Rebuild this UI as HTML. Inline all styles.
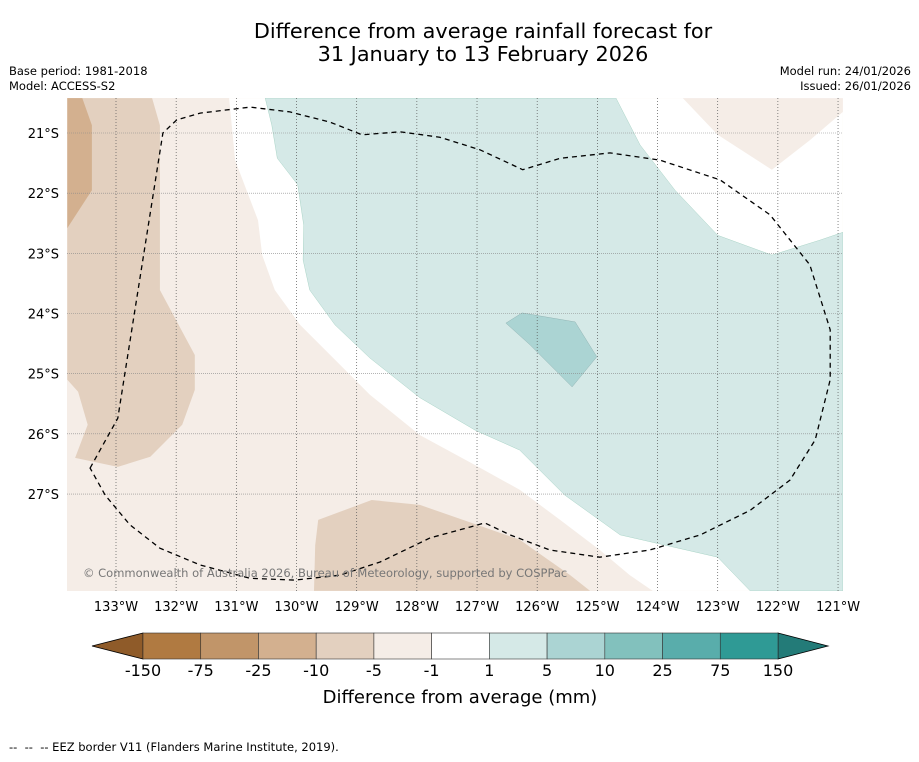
<!DOCTYPE html>
<html><head><meta charset="utf-8"><style>
body{margin:0;background:#fff;font-family:"DejaVu Sans","Liberation Sans",sans-serif;}
</style></head><body>
<svg width="919" height="758" xmlns="http://www.w3.org/2000/svg" font-family="DejaVu Sans, Liberation Sans, sans-serif">
<text x="483" y="38" font-size="20.8" text-anchor="middle">Difference from average rainfall forecast for</text>
<text x="483" y="61" font-size="20.8" text-anchor="middle">31 January to 13 February 2026</text>
<text x="9" y="75" font-size="11.5">Base period: 1981-2018</text>
<text x="9" y="90" font-size="11.5">Model: ACCESS-S2</text>
<text x="911" y="75" font-size="11.5" text-anchor="end">Model run: 24/01/2026</text>
<text x="911" y="90" font-size="11.5" text-anchor="end">Issued: 26/01/2026</text>
<defs><clipPath id="mc"><rect x="67" y="98" width="776" height="493"/></clipPath></defs>
<g id="map" clip-path="url(#mc)"></g>
<g id="axes"></g>
<text x="83" y="577" font-size="11.5" fill="#777">© Commonwealth of Australia 2026, Bureau of Meteorology, supported by COSPPac</text>
<g id="cbar"></g>
<text x="460" y="703" font-size="18" text-anchor="middle">Difference from average (mm)</text>
<text x="9" y="751" font-size="11.5" style="white-space:pre">--  --  -- EEZ border V11 (Flanders Marine Institute, 2019).</text>
</svg>
<script>
const lonTicks=[133,132,131,130,129,128,127,126,125,124,123,122,121];
const latTicks=[21,22,23,24,25,26,27];
const cbLabels=["-150","-75","-25","-10","-5","-1","1","5","10","25","75","150"];
const cbColors=["#b07a41","#c19569","#d3b08f","#e3d0bf","#f5ede7","#ffffff","#d5e9e7","#abd4d3","#82c1bd","#59adab","#2f9a95"];
const whiteRegion=[[131.12,20.42],[131.02,21.45],[130.64,22.45],[130.57,23.03],[130.36,23.61],[129.94,24.19],[129.36,24.77],[128.78,25.35],[127.95,26.02],[127.03,26.52],[126.29,26.93],[125.62,27.43],[124.96,27.93],[124.46,28.35],[124.08,28.61],[120.92,28.61],[120.92,20.42]];
const topRightBeige=[[123.58,20.42],[123.0,21.03],[122.10,21.61],[121.47,21.12],[120.92,20.65],[120.92,20.42]];
const tealRegion=[[130.52,20.42],[130.41,20.87],[130.32,21.42],[129.98,21.86],[129.88,22.53],[129.89,23.11],[129.78,23.61],[129.36,24.19],[128.78,24.74],[127.95,25.40],[127.03,25.94],[126.29,26.27],[125.54,27.02],[124.62,27.68],[123.0,28.05],[122.46,28.61],[120.92,28.61],[120.92,22.65],[121.30,22.78],[122.10,23.03],[123.0,22.70],[123.71,21.95],[124.29,21.20],[124.69,20.42]];
const darkTeal=[[126.52,24.16],[126.25,23.99],[125.37,24.14],[125.01,24.72],[125.42,25.22],[126.12,24.52]];
const leftBrown=[[133.81,20.42],[132.40,20.42],[132.27,20.87],[132.27,23.61],[131.69,24.69],[131.69,25.27],[131.90,25.85],[132.43,26.38],[132.97,26.55],[133.68,26.40],[133.47,25.85],[133.63,25.30],[133.81,25.10]];
const bottomBlob=[[129.64,27.43],[128.75,27.10],[127.95,27.18],[127.12,27.47],[126.29,27.76],[125.45,28.35],[125.12,28.61],[129.71,28.61],[129.69,27.85]];
const topLeftDark=[[133.81,20.42],[133.56,20.42],[133.40,20.87],[133.40,21.95],[133.81,22.58]];
const eezBorder=[[133.43,26.57],[132.97,25.74],[132.22,21.0],[131.99,20.78],[131.60,20.67],[130.77,20.57],[130.11,20.65],[129.44,20.82],[128.91,21.03],[128.28,20.98],[127.62,21.07],[126.95,21.28],[126.24,21.61],[125.62,21.42],[124.79,21.33],[123.96,21.45],[122.96,21.78],[122.13,22.36],[121.47,23.19],[121.13,24.27],[121.13,25.10],[121.38,26.10],[121.80,26.77],[122.46,27.27],[123.29,27.68],[124.13,27.93],[124.96,28.05],[125.79,27.93],[126.45,27.68],[126.87,27.48],[127.12,27.55],[127.78,27.73],[128.03,27.85],[128.61,28.13],[129.28,28.35],[130.03,28.43],[130.77,28.40],[131.60,28.18],[132.27,27.90],[132.77,27.51],[133.18,27.02]];
const NS="http://www.w3.org/2000/svg";
const K=60.17;
function X(w){return 116+(133-w)*K;}
function Y(s){return 133+(s-21)*K;}
function mk(t,a,p){const e=document.createElementNS(NS,t);for(const k in a)e.setAttribute(k,a[k]);p.appendChild(e);return e;}
const map=document.getElementById('map');
const bg=mk('rect',{x:67,y:98,width:776,height:493,fill:"#f5ede7"},map);


function poly(pts,fill,name,stroke){const e=mk('polygon',{points:pts.map(p=>X(p[0]).toFixed(1)+","+Y(p[1]).toFixed(1)).join(" "),fill:fill,stroke:stroke||"none","stroke-width":0.4},map);

return e;}
poly(whiteRegion,"#ffffff","region-near-average");
poly(topRightBeige,"#f5ede7","region-top-right-dry");
poly(tealRegion,"#d5e9e7","region-wet-1-5","#9cb");
poly(darkTeal,"#abd4d3","region-wet-5-10","#8aa");
poly(leftBrown,"#e3d0bf","region-left-dry-5-10");
poly(bottomBlob,"#e3d0bf","region-bottom-dry-5-10");
poly(topLeftDark,"#d3b08f","region-dry-10-25");
const ax=document.getElementById('axes');
latTicks.forEach(s=>{const l=mk('line',{x1:67,x2:843,y1:Y(s),y2:Y(s),stroke:"#888","stroke-width":0.6,"stroke-dasharray":"1,1"},ax);


const t=mk('text',{x:59,y:Y(s)+5,"font-size":13,"text-anchor":"end"},ax);t.textContent=s+"°S";

});
lonTicks.forEach(w=>{const l=mk('line',{x1:X(w),x2:X(w),y1:98,y2:591,stroke:"#555","stroke-width":0.7,"stroke-dasharray":"1,2"},ax);


const t=mk('text',{x:X(w),y:611,"font-size":13,"text-anchor":"middle"},ax);t.textContent=w+"°W";

});
const ez=mk('polygon',{points:eezBorder.map(p=>X(p[0]).toFixed(1)+","+Y(p[1]).toFixed(1)).join(" "),fill:"none",stroke:"#000","stroke-width":1.3,"stroke-dasharray":"5,4"},ax);


const cb=document.getElementById('cbar');
const x0=143,x1=778,cy=633,ch=26,bw=(x1-x0)/cbColors.length;
const lt=mk('polygon',{points:`92,${cy+ch/2} ${x0},${cy} ${x0},${cy+ch}`,fill:"#8f5b29",stroke:"#000","stroke-width":0.8},cb);


const rt=mk('polygon',{points:`828,${cy+ch/2} ${x1},${cy} ${x1},${cy+ch}`,fill:"#237b78",stroke:"#000","stroke-width":0.8},cb);


cbColors.forEach((c,i)=>{const r=mk('rect',{x:x0+i*bw,y:cy,width:bw,height:ch,fill:c,stroke:"#333","stroke-width":0.6},cb);

});
cbLabels.forEach((s,i)=>{const t=mk('text',{x:x0+i*bw,y:676,"font-size":16,"text-anchor":"middle"},cb);t.textContent=s;

});
</script>
</body></html>
